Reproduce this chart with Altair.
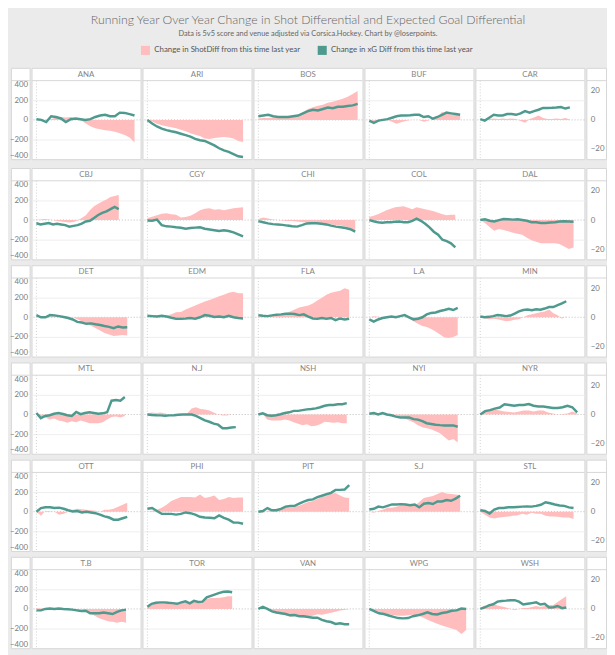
import altair as alt
import pandas as pd

TEAMS = ["ANA", "ARI", "BOS", "BUF", "CAR",
         "CBJ", "CGY", "CHI", "COL", "DAL",
         "DET", "EDM", "FLA", "L.A", "MIN",
         "MTL", "N.J", "NSH", "NYI", "NYR",
         "OTT", "PHI", "PIT", "S.J", "STL",
         "T.B", "TOR", "VAN", "WPG", "WSH"]
GAMES = [81, 79, 82, 75, 74,
         68, 79, 80, 71, 77,
         75, 79, 75, 73, 71,
         73, 73, 73, 73, 80,
         75, 79, 75, 75, 77,
         74, 70, 75, 80, 71]
SERIES = ["Change in ShotDiff from this time last year",
          "Change in xG Diff from this time last year"]
SHOT_TICKS = [-400, -200, 0, 200, 400]
XG_TICKS = [-20, 0, 20]

# ---- shot differential change (left axis) and xG differential change (right axis)
ANA_SHOT = [0, 5, 0, 10, 25, 30, 25, 30, 15, 0, -35, -65, -85, -95, -105, -110, -120, -135, -155, -180, -230]
ANA_XG = [0.5, 0, -1.5, 2.5, 2.0, 1.0, -1.5, 0.5, 1.0, 0.5, 0, 0.5, 2.0, 3.0, 3.5, 2.5, 2.5, 5.0, 4.8, 4.0, 3.0]
ARI_SHOT = [0, -15, -40, -55, -65, -75, -85, -100, -115, -135, -150, -165, -190, -195, -185, -180, -175, -180, -190, -215, -225]
ARI_XG = [0, -2.5, -4.5, -6, -7, -7.8, -8.5, -9.5, -10.5, -11.5, -13, -14, -14.5, -16, -17.5, -19.5, -21, -22, -23.5, -25, -25.5]
BOS_SHOT = [15, 20, 20, 25, 20, 25, 25, 30, 50, 80, 110, 130, 145, 155, 175, 185, 200, 215, 235, 265, 295]
BOS_XG = [2.5, 3, 3.5, 2.5, 2, 2, 2, 2.5, 3, 4.5, 6, 7, 6.5, 7.5, 8.5, 8, 9, 9, 9.5, 10, 11]
BUF_SHOT = [0, -10, -15, -5, 0, -20, -40, -25, -10, 0, 0, 0, -20, -5, 10, 30, 80, 65, 55, 50, 50]
BUF_XG = [-0.5, -2, -0.5, 0, 0.5, 1.5, 2.5, 3, 3, 3.2, 3.5, 3.5, 2, 2.5, 0.8, 2, 3.5, 5, 4.5, 4, 3.5]
CAR_SHOT = [0, 5, 10, 15, 10, 15, 10, 15, 10, -10, -30, 10, 25, 45, 20, 10, 10, 15, 10, 20, 5]
CAR_XG = [0.5, -0.5, 1.5, 3.5, 3, 3, 4, 4, 3.5, 4.5, 6, 5, 6, 7, 8.2, 8.2, 8.3, 8.5, 8.8, 7.8, 8.6]

CBJ_SHOT = [0, 5, 10, 5, 0, -10, -15, -20, -25, -20, -5, 20, 50, 100, 140, 165, 190, 210, 235, 245, 255]
CBJ_XG = [-2.2, -3, -2.5, -2, -3, -2.5, -3, -3.5, -4.5, -4, -3.5, -2.5, -1, -0.5, 1.5, 3.5, 5, 6, 7.5, 9, 7.5]
CGY_SHOT = [20, 35, 50, 65, 70, 60, 55, 25, 30, 45, 70, 100, 115, 120, 105, 110, 100, 110, 120, 125, 130]
CGY_XG = [-0.3, -0.5, 0.3, -3.5, -4.3, -4.5, -5, -5.3, -6, -5.5, -5.2, -5, -6, -6.5, -7, -7.5, -7, -7.5, -8.5, -9.8, -11.2]
CHI_SHOT = [10, 25, 15, 5, 0, -5, -10, -10, -15, -20, -25, -30, -30, -35, -40, -45, -50, -55, -65, -80, -110]
CHI_XG = [-0.7, -1.5, -2.3, -2.8, -3, -3.3, -3.8, -4.2, -4.5, -3.5, -2.3, -2.2, -2.2, -2.5, -3, -3.8, -4.5, -5, -5.5, -6.3, -8]
COL_SHOT = [30, 45, 60, 80, 100, 115, 130, 135, 140, 125, 110, 130, 120, 110, 100, 90, 75, 60, 50, 55, 55]
COL_XG = [0, -0.8, -1.5, -1.8, -1.5, -1.5, -1.2, -1, -1.5, -1.5, -0.5, 1, -0.5, -2.5, -5, -8, -10, -13.5, -14.5, -16, -18.8]
DAL_SHOT = [0, -30, -70, -110, -90, -100, -115, -130, -140, -150, -180, -205, -220, -235, -235, -235, -235, -245, -270, -295, -280]
DAL_XG = [0, 0.5, -0.5, -1, 0, 0.7, 0.5, 0.3, 0.5, 0, -0.5, -1.5, -1.5, -2, -2, -1.7, -1.5, -1, -0.8, -1, -1.2]

DET_SHOT = [10, 5, 0, 5, 10, 10, 10, 5, 0, -20, -40, -60, -85, -110, -135, -160, -175, -190, -185, -180, -185]
DET_XG = [1.5, 0, 0, 1.5, 1.3, 0.8, 0.2, -0.5, -1.5, -3.2, -3.6, -4.5, -4.2, -4.8, -5.3, -6, -6.6, -7.5, -6.3, -7, -6.8]
EDM_SHOT = [10, 15, 20, 10, 15, 30, 50, 55, 80, 100, 120, 140, 160, 175, 195, 215, 230, 250, 260, 245, 245]
EDM_XG = [1, 0.8, 0.5, 1, 0.5, -0.3, -1, -1, -0.8, -0.5, -1, 0, 1.5, 1, 0.2, 0.5, 0, 1, 0, -0.5, -0.8]
FLA_SHOT = [15, 20, 20, 20, 25, 30, 40, 60, 80, 100, 110, 120, 140, 170, 200, 230, 250, 260, 270, 295, 280]
FLA_XG = [1.5, 1, 0.8, 1.3, 1.8, 2, 2.4, 2.5, 2.2, 1.5, 2, 0.5, -0.8, -1, -0.5, -1, -0.5, -2, -0.8, -1.5, -1]
LA_SHOT = [0, 10, 5, 0, 0, 0, 0, 0, 0, -10, -40, -65, -90, -100, -120, -145, -175, -205, -210, -200, -180]
LA_XG = [-1.5, -3, -1.5, -0.5, 0, 0.5, 0, 0.8, 1.5, 0, -1.5, -1, 0, 2, 3, 3.3, 4.3, 5, 5.8, 5, 6.5]
MIN_SHOT = [10, -10, -20, -15, -20, -30, -40, -35, -25, -20, 0, 20, 30, 40, 50, 60, 80, 40, 20, -15, 10]
MIN_XG = [0.5, 0, 0.3, 0.8, 1.5, 1.2, 0.8, 1.2, 2.5, 4, 5, 5.3, 4.8, 5.5, 5.2, 6, 7, 7, 8.3, 9.5, 11]

MTL_SHOT = [0, -20, -30, -50, -40, -60, -70, -85, -70, -80, -60, -75, -90, -90, -90, -80, -50, -25, -20, -30, -15]
MTL_XG = [1, -2.5, -1, -0.5, 0.5, 1, 0.3, -0.5, -1, 1.7, 0.2, 1, 1.5, 1, 0.5, 0.8, 1.5, 9.5, 10, 9.5, 12]
NJ_SHOT = [10, 20, 15, 20, 10, 0, 0, 0, 0, 10, 60, 75, 55, 50, 40, 20, 0, -10, -10, 0, 0]
NJ_XG = [0, -0.3, -0.5, -0.6, -0.8, -0.6, -0.5, -0.2, 0, 0, 0, -1, -2.5, -4, -5, -6.3, -7, -9.5, -9.5, -9, -8.7]
NSH_SHOT = [0, 5, -50, -60, -60, -60, -50, -60, -80, -95, -110, -100, -120, -115, -100, -75, -80, -85, -80, -90, -90]
NSH_XG = [0, 0.8, -0.5, -0.8, -0.5, 0.2, 1, 1.5, 2.5, 2.5, 3, 3.5, 3.8, 4.2, 5, 6, 6.5, 6.5, 7, 7, 7.8]
NYI_SHOT = [0, -10, 0, -5, -10, -10, -10, -20, -40, -60, -80, -110, -130, -140, -150, -170, -190, -230, -265, -250, -285]
NYI_XG = [0.5, 1, 0, 1, 0, -0.5, -1.5, -2, -2, -2, -3.2, -3.5, -4.5, -6, -6.5, -7, -7.3, -7.5, -7.5, -7.5, -8.4]
NYR_SHOT = [5, 30, 50, 50, 40, 30, 25, 20, 30, 40, 40, 30, 40, 40, 20, 10, 0, 5, 10, 30, 10]
NYR_XG = [0, 2.3, 3, 4, 4.8, 7, 6.5, 6, 6.5, 6.5, 7.2, 6, 5.5, 5.5, 5, 4.5, 4.5, 5, 6, 5, 1.5]

OTT_SHOT = [0, -40, 10, 5, 0, -30, -20, 0, 20, 30, 25, 20, 15, 10, 0, 20, 20, 30, 50, 70, 90]
OTT_XG = [0, 2.5, 3, 3, 2.5, 2.8, 2, 1, 0.2, 0.5, -0.5, 0, -0.5, -1, -2, -3.2, -4, -5.5, -5.5, -4.5, -3.5]
PHI_SHOT = [0, 10, 20, 40, 70, 110, 130, 150, 150, 150, 145, 175, 140, 150, 165, 120, 130, 150, 140, 145, 145]
PHI_XG = [2, 2.5, 0.5, -1.5, -1.5, -1.5, -2, -1.5, -0.5, -1, -2, -3.5, -4, -4.2, -4.5, -2.5, -4.2, -5.5, -7.5, -7.5, -8.3]
PIT_SHOT = [0, -10, 10, 20, 30, 40, 50, 60, 50, 60, 80, 100, 110, 130, 150, 160, 185, 190, 165, 145, 140]
PIT_XG = [0, 0.5, 2.5, 1, 1, 2, 3.5, 4, 4, 5.5, 7, 8, 8.5, 10, 11, 12, 13, 15, 15, 15.2, 18.3]
SJ_SHOT = [0, -10, 10, 20, 40, 40, 50, 70, 80, 70, 60, 100, 140, 150, 160, 180, 200, 185, 180, 175, 170]
SJ_XG = [1.5, 2, 3.5, 3, 4, 5, 5, 5.2, 5, 4.5, 5, 3, 5.5, 6, 5.3, 7, 7, 8, 7.5, 9, 11]
STL_SHOT = [0, -30, -60, -70, -60, -55, -50, -40, -35, -20, -30, -10, -20, -20, -40, -50, -50, -55, -60, -60, -75]
STL_XG = [1, 0.5, -1.2, 1.5, 2.5, 2.5, 3, 3, 3.3, 3.5, 3.6, 3.5, 4, 4.8, 6.5, 5.8, 5, 4.3, 4, 3, 2.5]

TB_SHOT = [10, 5, 5, 5, 0, 5, 0, -5, -10, -20, -25, -30, -45, -70, -95, -110, -125, -130, -140, -130, -140]
TB_XG = [-1, -1, 0, 0.3, 0, 0.3, 0, -0.2, -0.5, -1, -1.5, -1.2, -3, -3, -3, -2.5, -3, -3.5, -2, -1, -0.5]
TOR_SHOT = [30, 40, 60, 60, 60, 60, 55, 50, 60, 70, 60, 80, 70, 80, 100, 110, 110, 115, 120, 130, 130]
TOR_XG = [1.5, 3.5, 4.2, 4.5, 4.5, 4.2, 4, 3.5, 4.5, 5.2, 3.8, 5.5, 4.8, 5, 8, 9, 10, 11, 11.8, 12, 11.5]
VAN_SHOT = [0, 15, -10, -30, -50, -55, -65, -80, -70, -80, -90, -80, -70, -55, -60, -50, -40, -30, -15, -10, 0]
VAN_XG = [0, 1.5, 0, -1.7, -2.5, -3, -3.5, -4.4, -4.2, -5, -5, -5.5, -6, -6, -7.5, -8.5, -9, -10.3, -9.8, -10.5, -10.5]
WPG_SHOT = [0, -15, -30, -45, -55, -65, -70, -70, -65, -60, -70, -85, -110, -130, -150, -170, -185, -200, -215, -255, -215]
WPG_XG = [0, -1.5, -3, -3.5, -4.5, -5.5, -6.3, -6.5, -6.3, -5, -4.4, -3.5, -2.3, -3.5, -3.8, -2.8, -2.3, -1.3, -1, 0.3, 0]
WSH_SHOT = [10, 35, 30, 50, 35, 25, 15, 0, -10, 0, 10, 10, 20, 30, 20, 30, 40, 40, 70, 100, 130]
WSH_XG = [0, 1, 2.5, 3.2, 5, 5.5, 5.7, 6, 6, 5, 3, 3.5, 4, 4.5, 3, 3.5, 1, 1.2, 2, 0.5, 1]

SHOT = {"ANA": ANA_SHOT, "ARI": ARI_SHOT, "BOS": BOS_SHOT, "BUF": BUF_SHOT, "CAR": CAR_SHOT,
        "CBJ": CBJ_SHOT, "CGY": CGY_SHOT, "CHI": CHI_SHOT, "COL": COL_SHOT, "DAL": DAL_SHOT,
        "DET": DET_SHOT, "EDM": EDM_SHOT, "FLA": FLA_SHOT, "L.A": LA_SHOT, "MIN": MIN_SHOT,
        "MTL": MTL_SHOT, "N.J": NJ_SHOT, "NSH": NSH_SHOT, "NYI": NYI_SHOT, "NYR": NYR_SHOT,
        "OTT": OTT_SHOT, "PHI": PHI_SHOT, "PIT": PIT_SHOT, "S.J": SJ_SHOT, "STL": STL_SHOT,
        "T.B": TB_SHOT, "TOR": TOR_SHOT, "VAN": VAN_SHOT, "WPG": WPG_SHOT, "WSH": WSH_SHOT}
XG = {"ANA": ANA_XG, "ARI": ARI_XG, "BOS": BOS_XG, "BUF": BUF_XG, "CAR": CAR_XG,
      "CBJ": CBJ_XG, "CGY": CGY_XG, "CHI": CHI_XG, "COL": COL_XG, "DAL": DAL_XG,
      "DET": DET_XG, "EDM": EDM_XG, "FLA": FLA_XG, "L.A": LA_XG, "MIN": MIN_XG,
      "MTL": MTL_XG, "N.J": NJ_XG, "NSH": NSH_XG, "NYI": NYI_XG, "NYR": NYR_XG,
      "OTT": OTT_XG, "PHI": PHI_XG, "PIT": PIT_XG, "S.J": SJ_XG, "STL": STL_XG,
      "T.B": TB_XG, "TOR": TOR_XG, "VAN": VAN_XG, "WPG": WPG_XG, "WSH": WSH_XG}

# ---- layout / style
W, H, HEAD = 111, 93, 13
LW, RW = 19, 20
SHOT_DOMAIN = [-400, 400]
XG_DOMAIN = [-27, 27]
X_DOMAIN = [-4, 86]
PINK = "#ffbdbd"
TEAL = "#4e9a8e"
BG = "#ebebeb"
BORDER = "#d6d6d6"
GRID = "#eeeeee"
FONT = "Lato"
TXT = "#858585"

color_scale = alt.Scale(domain=SERIES, range=[PINK, TEAL])


def xscale():
    return alt.Scale(domain=X_DOMAIN, nice=False, zero=False)


def shot_scale():
    return alt.Scale(domain=SHOT_DOMAIN, range=[H, HEAD], nice=False, zero=False)


def xg_scale():
    return alt.Scale(domain=XG_DOMAIN, range=[H, HEAD], nice=False, zero=False)


def header_rule(width):
    one = pd.DataFrame({"v": [0]})
    return alt.Chart(one).mark_rule(color=BORDER, strokeWidth=1).encode(
        x=alt.value(0), x2=alt.value(width), y=alt.value(HEAD))


def panel(i):
    team = TEAMS[i]
    games = GAMES[i]
    shot = SHOT[team]
    xg = XG[team]
    n = len(shot)
    df = pd.DataFrame({
        "game": [games * k / (n - 1) for k in range(n)],
        "shot": shot,
        "xg": xg,
        "s_series": SERIES[0],
        "x_series": SERIES[1],
    })
    one = pd.DataFrame({"v": [0]})
    x = alt.X("game:Q", scale=xscale(), axis=None)
    if i == 0:
        legend = alt.Legend(orient="none", legendX=132, legendY=-23, direction="horizontal",
                            title=None, symbolType="square", symbolSize=85, symbolStrokeWidth=0,
                            symbolOpacity=1, labelFontSize=8, labelFont=FONT, labelColor="#555555",
                            columnPadding=16, labelLimit=400, padding=0)
    else:
        legend = None
    zero = alt.Chart(one).mark_rule(color="#bcbcbc", strokeDash=[1, 2], strokeWidth=1).encode(
        y=alt.Y("v:Q", scale=shot_scale(), axis=None))
    vline = alt.Chart(one).mark_rule(color="#cfcfcf", strokeDash=[1, 2], strokeWidth=1).encode(
        x=alt.X("v:Q", scale=xscale(), axis=None), y=alt.value(HEAD), y2=alt.value(H))
    area = alt.Chart(df).mark_area(interpolate="linear").encode(
        x=x,
        y=alt.Y("shot:Q", scale=shot_scale(),
                axis=alt.Axis(values=[-200, 200], grid=True, gridColor=GRID, labels=False,
                              ticks=False, domain=False, title=None)),
        color=alt.Color("s_series:N", scale=color_scale, legend=legend))
    line = alt.Chart(df).mark_line(strokeWidth=2.5, interpolate="linear").encode(
        x=x,
        y=alt.Y("xg:Q", scale=xg_scale(), axis=None),
        color=alt.Color("x_series:N", scale=color_scale, legend=None))
    htext = alt.Chart(one).mark_text(text=team, fontSize=8, color=TXT, font=FONT,
                                     align="center", baseline="middle").encode(
        x=alt.value(W / 2), y=alt.value(HEAD / 2 + 0.5))
    return alt.layer(zero, vline, area, line, header_rule(W), htext).resolve_scale(
        y="independent").properties(width=W, height=H)


def left_col():
    one = pd.DataFrame({"v": [0]})
    pts = alt.Chart(one).mark_point(opacity=0).encode(
        y=alt.Y("v:Q", scale=shot_scale(),
                axis=alt.Axis(orient="left", offset=-LW, values=SHOT_TICKS, labelFlush=True,
                              ticks=False, tickSize=0, domain=False, grid=False, title=None,
                              labelPadding=2, labelFontSize=8, labelColor="#7a7a7a",
                              labelFont=FONT)))
    return alt.layer(pts, header_rule(LW)).properties(width=LW, height=H)


def right_col():
    one = pd.DataFrame({"v": [0]})
    pts = alt.Chart(one).mark_point(opacity=0).encode(
        y=alt.Y("v:Q", scale=xg_scale(),
                axis=alt.Axis(orient="right", offset=-RW, values=XG_TICKS, labelFlush=False,
                              ticks=False, tickSize=0, domain=False, grid=False, title=None,
                              labelPadding=4, labelFontSize=8, labelColor="#7a7a7a",
                              labelFont=FONT)))
    return alt.layer(pts, header_rule(RW)).properties(width=RW, height=H)


rows = []
for r in range(6):
    cells = [panel(r * 5 + c) for c in range(5)]
    rows.append(alt.hconcat(left_col(), *cells, right_col(), spacing=0))

chart = alt.vconcat(*rows, spacing=4).properties(
    title=alt.TitleParams(
        text="Running Year Over Year Change in Shot Differential and Expected Goal Differential",
        subtitle="Data is 5v5 score and venue adjusted via Corsica.Hockey. Chart by @loserpoints.",
        anchor="middle", font=FONT, fontSize=12.5, fontWeight=300, color="#666666",
        subtitleFont=FONT, subtitleFontSize=7.5, subtitleColor="#666666", subtitlePadding=4,
        offset=8),
    padding={"left": 0, "right": 0, "top": 0, "bottom": 2},
).configure(background=BG).configure_view(stroke=BORDER, strokeWidth=1, fill="white")

chart.save("out.html", embed_options={"renderer": "svg", "actions": False})
